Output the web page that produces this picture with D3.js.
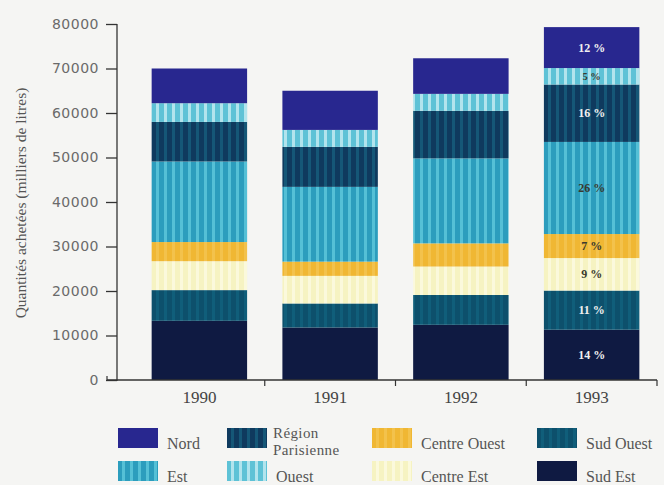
<!DOCTYPE html>
<html>
<head>
<meta charset="utf-8">
<script src="https://cdn.jsdelivr.net/npm/d3@7"></script>
<style>
  html, body { margin: 0; padding: 0; background: #f5f5f3; }
  svg { display: block; }
</style>
</head>
<body>
<svg id="chart" width="664" height="485"></svg>
<script>
// Achats par région, 1990-1993 (milliers de litres)
const years = ["1990", "1991", "1992", "1993"];
// Régions dans l'ordre d'empilement, du bas vers le haut
const regions = ["Sud Est", "Sud Ouest", "Centre Est", "Centre Ouest", "Est", "Région Parisienne", "Ouest", "Nord"];
const sudEst           = [13300, 11800, 12400, 11300];
const sudOuest         = [6900, 5400, 6700, 8800];
const centreEst        = [6500, 6200, 6400, 7300];
const centreOuest      = [4300, 3200, 5200, 5400];
const est              = [18100, 16800, 19100, 20700];
const regionParisienne = [8900, 9000, 10700, 12900];
const ouest            = [4200, 3800, 3800, 3700];
const nord             = [7800, 8800, 8000, 9200];
const yTicks = [0, 10000, 20000, 30000, 40000, 50000, 60000, 70000, 80000];
const legendRows = [
  ["Nord", "Région Parisienne", "Centre Ouest", "Sud Ouest"],
  ["Est", "Ouest", "Centre Est", "Sud Est"]
];
const labelledYear = "1993";

const seriesValues = {
  "Sud Est": sudEst, "Sud Ouest": sudOuest, "Centre Est": centreEst,
  "Centre Ouest": centreOuest, "Est": est, "Région Parisienne": regionParisienne,
  "Ouest": ouest, "Nord": nord
};

const table = years.map((y, i) => {
  const row = { year: y };
  regions.forEach(r => { row[r] = seriesValues[r][i]; });
  return row;
});

const svg = d3.select("#chart");
const serif = "'Liberation Serif', 'DejaVu Serif', serif";

// Fills: solid colours, and vertical stripe patterns for hatched regions
const defs = svg.append("defs");
const styles = {
  "Sud Est":           { base: "#0f1a42" },
  "Sud Ouest":         { base: "#0d506c", stripe: "#105e7a" },
  "Centre Est":        { base: "#f6f3c2", stripe: "#fbf9dc" },
  "Centre Ouest":      { base: "#f0b733", stripe: "#f3c24c" },
  "Est":               { base: "#2c9dbd", stripe: "#55c0d6" },
  "Région Parisienne": { base: "#0f3a5e", stripe: "#155777" },
  "Ouest":             { base: "#5ec2d6", stripe: "#b2e4ed" },
  "Nord":              { base: "#28278f" }
};
const fillOf = {};
regions.forEach((r, i) => {
  const s = styles[r];
  if (!s.stripe) { fillOf[r] = s.base; return; }
  const id = "pat" + i;
  const p = defs.append("pattern")
    .attr("id", id).attr("patternUnits", "userSpaceOnUse")
    .attr("width", 8).attr("height", 8);
  p.append("rect").attr("width", 8).attr("height", 8).attr("fill", s.base);
  p.append("rect").attr("x", 4).attr("width", 3).attr("height", 8).attr("fill", s.stripe);
  fillOf[r] = `url(#${id})`;
});

// Scales
const x = d3.scaleBand().domain(years).range([134, 657]).paddingInner(0.27).paddingOuter(0.135);
const y = d3.scaleLinear().domain([0, 80000]).range([380, 24]);

// Bars
const stacked = d3.stack().keys(regions)(table);
const layers = svg.append("g").selectAll("g").data(stacked).join("g")
  .attr("fill", d => fillOf[d.key]);
layers.selectAll("rect").data(d => d).join("rect")
  .attr("x", d => x(d.data.year))
  .attr("width", x.bandwidth())
  .attr("y", d => y(d[1]))
  .attr("height", d => y(d[0]) - y(d[1]));

// Percentage labels on the last year
const lastRow = table.find(r => r.year === labelledYear);
const lastTotal = d3.sum(regions, r => lastRow[r]);
const darkText = new Set(["Centre Est", "Centre Ouest", "Est", "Ouest"]);
svg.append("g").selectAll("text").data(stacked).join("text")
  .each(function (layer) {
    const seg = layer.find(d => d.data.year === labelledYear);
    d3.select(this)
      .attr("x", x(labelledYear) + x.bandwidth() / 2)
      .attr("y", (y(seg[0]) + y(seg[1])) / 2)
      .text(Math.round((seg[1] - seg[0]) / lastTotal * 100) + " %");
  })
  .attr("text-anchor", "middle")
  .attr("dominant-baseline", "central")
  .attr("font-family", serif)
  .attr("font-weight", "bold")
  .attr("font-size", d => d.key === "Ouest" ? 10.5 : 12)
  .attr("fill", d => darkText.has(d.key) ? "#3a3a30" : "#f0f0f0");

// Y axis
const yAxis = svg.append("g").attr("transform", "translate(117,0)")
  .call(d3.axisLeft(y).tickValues(yTicks).tickFormat(d3.format("d")).tickSize(11).tickPadding(7));
yAxis.select(".domain").attr("d", "M0,24V381").attr("stroke", "#333").attr("stroke-width", 1.3);
yAxis.selectAll(".tick line").attr("stroke", "#333").attr("stroke-width", 1.3);
yAxis.selectAll(".tick text")
  .attr("font-family", "'DejaVu Sans', sans-serif")
  .attr("font-size", 14)
  .attr("letter-spacing", 0.5)
  .attr("fill", "#6a6a6a");

// X axis: baseline with separators between years
const xAxis = svg.append("g").attr("transform", "translate(0,380)");
xAxis.append("line").attr("x1", 107).attr("x2", 657).attr("stroke", "#333").attr("stroke-width", 1.3);
xAxis.append("line").attr("x1", 107).attr("x2", 107).attr("y1", 0).attr("y2", -4).attr("stroke", "#333").attr("stroke-width", 1.2);
const step = x.step();
const seps = years.slice(1).map(v => x(v) - (step - x.bandwidth()) / 2).concat([657]);
xAxis.selectAll("line.sep").data(seps).join("line")
  .attr("class", "sep")
  .attr("x1", d => d).attr("x2", d => d)
  .attr("y1", 0).attr("y2", 6)
  .attr("stroke", "#333").attr("stroke-width", 1.2);
xAxis.selectAll("text").data(years).join("text")
  .attr("x", d => x(d) + x.bandwidth() / 2)
  .attr("y", 23)
  .attr("text-anchor", "middle")
  .attr("font-family", serif)
  .attr("font-size", 17)
  .attr("fill", "#444")
  .text(d => d);

// Axis title
svg.append("text")
  .attr("transform", "translate(26,203) rotate(-90)")
  .attr("text-anchor", "middle")
  .attr("font-family", serif)
  .attr("font-size", 15.5)
  .attr("fill", "#555")
  .text("Quantités achetées (milliers de litres)");

// Legend
const legendCols = [118, 227, 372, 537];
const legendTops = [428, 461];
const legend = svg.append("g");
legendRows.forEach((row, ri) => {
  row.forEach((name, ci) => {
    const g = legend.append("g").attr("transform", `translate(${legendCols[ci]},${legendTops[ri]})`);
    g.append("rect").attr("width", 40).attr("height", 20).attr("fill", fillOf[name]);
    const t = g.append("text")
      .attr("font-family", serif)
      .attr("fill", "#555");
    if (name === "Région Parisienne") {
      t.attr("font-size", 15).attr("letter-spacing", 0.4);
      t.append("tspan").attr("x", 46).attr("y", 10).text("Région");
      t.append("tspan").attr("x", 46).attr("y", 27).text("Parisienne");
    } else {
      t.attr("x", 49).attr("font-size", 16).attr("y", 21).text(name);
    }
  });
});
</script>
</body>
</html>
